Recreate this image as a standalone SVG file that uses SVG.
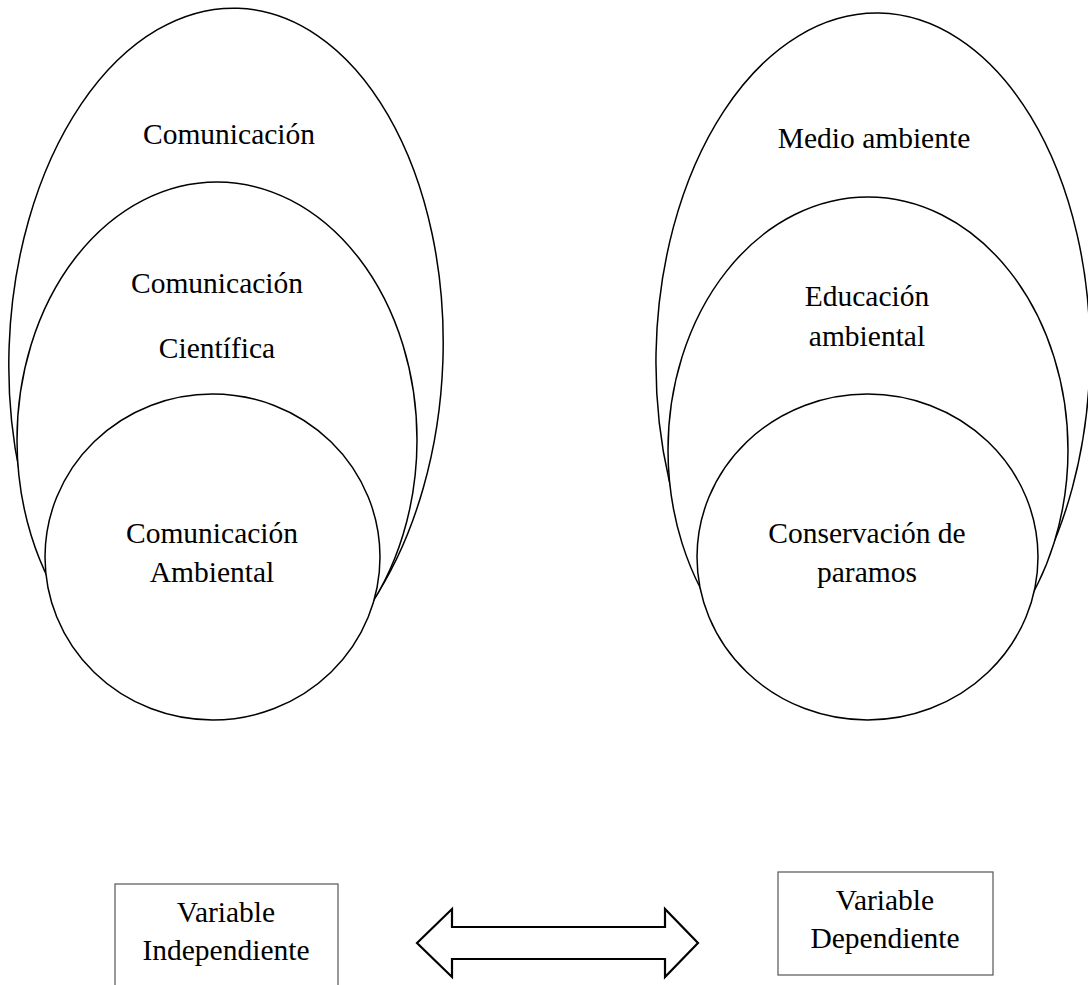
<svg xmlns="http://www.w3.org/2000/svg" width="1088" height="985" viewBox="0 0 1088 985">
<style>
.e{fill:#fff;stroke:#000;stroke-width:1.5}
.t{font-family:"Liberation Serif","Times New Roman",serif;font-size:29.5px;fill:#000;text-anchor:middle}
.b{fill:#fff;stroke:#555;stroke-width:1.2}
.a{fill:#fff;stroke:#000;stroke-width:2.2;stroke-linejoin:miter}
</style>
<rect width="1088" height="985" fill="#fff"/>
<g id="izq-comunicacion">
<ellipse class="e" cx="226" cy="354" rx="217" ry="346" transform="rotate(2 226 354)"/>
<text class="t" x="229" y="144">Comunicación</text>
</g>
<g id="izq-cientifica">
<ellipse class="e" cx="217" cy="440" rx="200" ry="258"/>
<text class="t" x="217" y="293">Comunicación</text>
<text class="t" x="217" y="358">Científica</text>
</g>
<g id="izq-ambiental">
<ellipse class="e" cx="212.5" cy="557" rx="167.5" ry="163"/>
<text class="t" x="212" y="543">Comunicación</text>
<text class="t" x="212" y="582">Ambiental</text>
</g>
<g id="der-medio">
<ellipse class="e" cx="873" cy="357" rx="217" ry="344" transform="rotate(1 873 357)"/>
<text class="t" x="874" y="148">Medio ambiente</text>
</g>
<g id="der-educacion">
<ellipse class="e" cx="868" cy="450" rx="200" ry="253"/>
<text class="t" x="867" y="306">Educación</text>
<text class="t" x="867" y="346">ambiental</text>
</g>
<g id="der-conservacion">
<ellipse class="e" cx="867.5" cy="557" rx="170.5" ry="163"/>
<text class="t" x="867" y="543">Conservación de</text>
<text class="t" x="867" y="582">paramos</text>
</g>
<g id="var-independiente">
<rect class="b" x="115" y="884" width="223" height="110"/>
<text class="t" x="226" y="922">Variable</text>
<text class="t" x="226" y="960">Independiente</text>
</g>
<g id="var-dependiente">
<rect class="b" x="778" y="872" width="215" height="103"/>
<text class="t" x="885" y="910">Variable</text>
<text class="t" x="885" y="948">Dependiente</text>
</g>
<g id="conectores">
<polygon class="a" points="417,943 452,909 452,927 665,927 665,909 698,943 665,977 665,959 452,959 452,977"/>
</g>
</svg>
